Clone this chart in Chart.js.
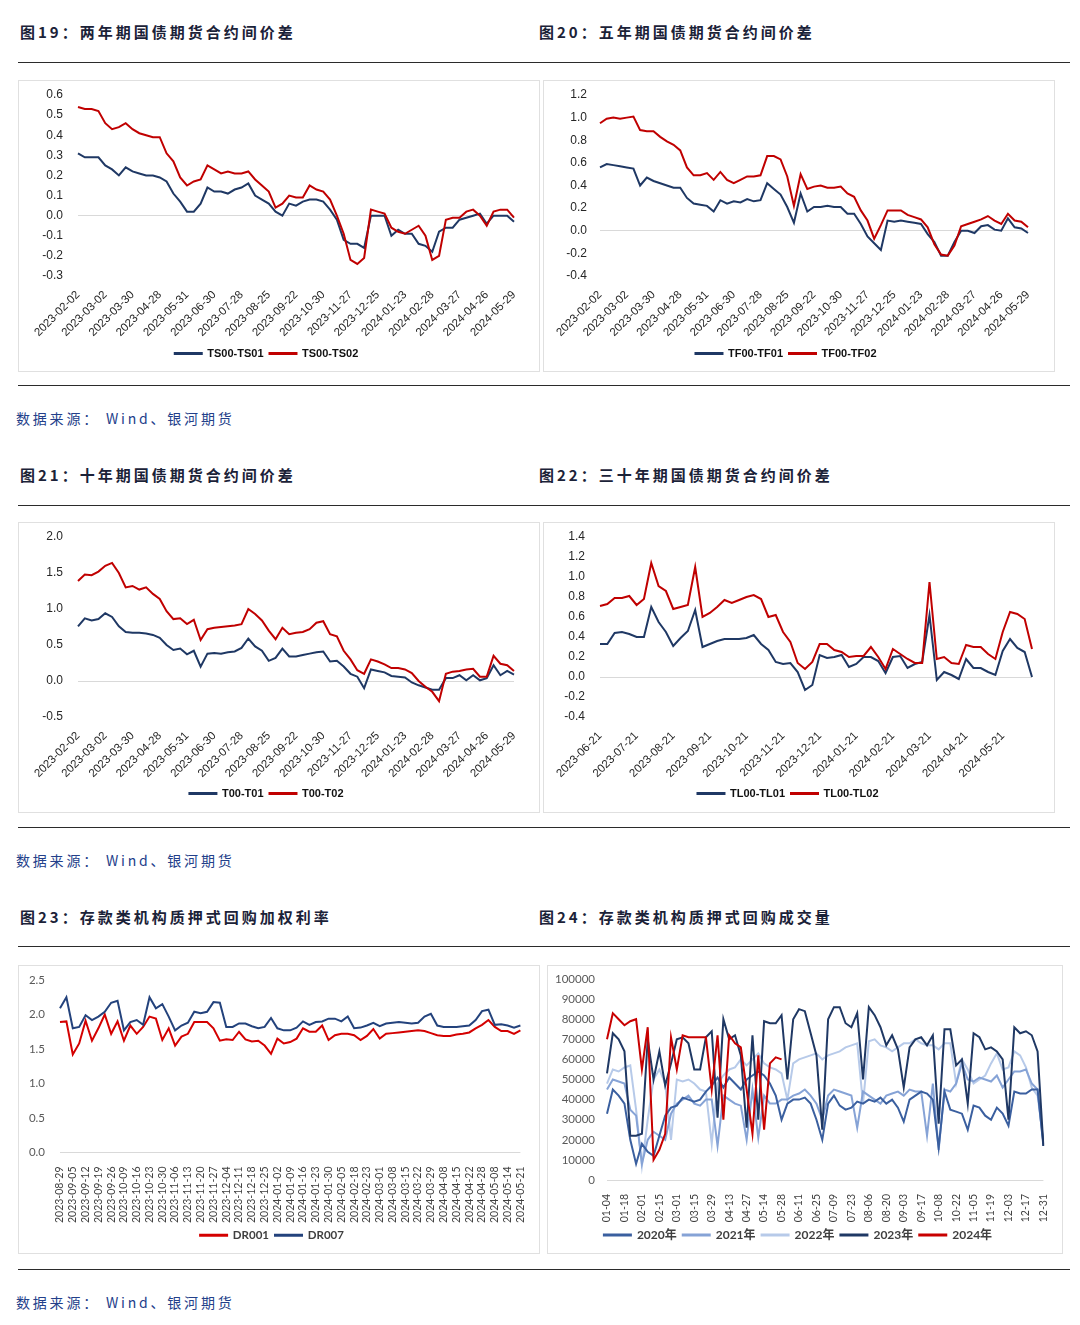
<!DOCTYPE html>
<html lang="zh-CN">
<head>
<meta charset="UTF-8">
<title>国债期货合约间价差与质押式回购</title>
<script src="https://cdn.jsdelivr.net/npm/chart.js@4.4.1/dist/chart.umd.min.js"></script>
<style>
  html, body { margin: 0; padding: 0; background: #fff; }
  body { width: 1080px; height: 1325px; position: relative; overflow: hidden; font-family: "Noto Sans CJK SC", sans-serif; }
  .title { position: absolute; font-size: 15px; font-weight: 700; letter-spacing: 3px; color: #1b2238; line-height: 20px; white-space: nowrap; }
  .rule { position: absolute; left: 18px; width: 1052px; height: 0; border-top: 1.5px solid #2b2b2b; }
  .src { position: absolute; left: 16px; font-size: 14px; letter-spacing: 2.8px; color: #23408a; line-height: 20px; white-space: nowrap; }
  .box { position: absolute; border: 1px solid #e0e0e0; box-sizing: border-box; }
  .box canvas { display: block; }
</style>
</head>
<body>

<div class="title" style="left:20px;top:22px">图19：两年期国债期货合约间价差</div>
<div class="title" style="left:539px;top:22px">图20：五年期国债期货合约间价差</div>
<div class="rule" style="top:62px"></div>
<div class="box" style="left:18px;top:80px;width:522px;height:292px"><canvas id="c19"></canvas></div>
<div class="box" style="left:543px;top:80px;width:512px;height:292px"><canvas id="c20"></canvas></div>
<div class="rule" style="top:385px"></div>
<div class="src" style="top:408px">数据来源： Wind、银河期货</div>

<div class="title" style="left:20px;top:465px">图21：十年期国债期货合约间价差</div>
<div class="title" style="left:539px;top:465px">图22：三十年期国债期货合约间价差</div>
<div class="rule" style="top:505px"></div>
<div class="box" style="left:18px;top:522px;width:522px;height:291px"><canvas id="c21"></canvas></div>
<div class="box" style="left:543px;top:522px;width:512px;height:291px"><canvas id="c22"></canvas></div>
<div class="rule" style="top:827px"></div>
<div class="src" style="top:850px">数据来源： Wind、银河期货</div>

<div class="title" style="left:20px;top:907px">图23：存款类机构质押式回购加权利率</div>
<div class="title" style="left:539px;top:907px">图24：存款类机构质押式回购成交量</div>
<div class="rule" style="top:946px"></div>
<div class="box" style="left:18px;top:965px;width:522px;height:289px"><canvas id="c23"></canvas></div>
<div class="box" style="left:547px;top:965px;width:516px;height:289px"><canvas id="c24"></canvas></div>
<div class="rule" style="top:1269px"></div>
<div class="src" style="top:1292px">数据来源： Wind、银河期货</div>

<script>
// x轴刻度标签
const datesA = ['2023-02-02','2023-03-02','2023-03-30','2023-04-28','2023-05-31','2023-06-30','2023-07-28','2023-08-25','2023-09-22','2023-10-30','2023-11-27','2023-12-25','2024-01-23','2024-02-28','2024-03-27','2024-04-26','2024-05-29'];
const datesTL = ['2023-06-21','2023-07-21','2023-08-21','2023-09-21','2023-10-21','2023-11-21','2023-12-21','2024-01-21','2024-02-21','2024-03-21','2024-04-21','2024-05-21'];
const datesDR = ['2023-08-29','2023-09-05','2023-09-12','2023-09-19','2023-09-26','2023-10-09','2023-10-16','2023-10-23','2023-10-30','2023-11-06','2023-11-13','2023-11-20','2023-11-27','2023-12-04','2023-12-11','2023-12-18','2023-12-25','2024-01-02','2024-01-09','2024-01-16','2024-01-23','2024-01-30','2024-02-05','2024-02-18','2024-02-23','2024-03-01','2024-03-08','2024-03-15','2024-03-22','2024-03-29','2024-04-08','2024-04-15','2024-04-22','2024-04-28','2024-05-08','2024-05-14','2024-05-21'];
const daysVol = ['01-04','01-18','02-01','02-15','03-01','03-15','03-29','04-13','04-27','05-14','05-28','06-11','06-25','07-09','07-23','08-06','08-20','09-03','09-17','10-08','10-22','11-05','11-19','12-03','12-17','12-31'];

// 图19 两年期
const ts01 = [0.31,0.29,0.29,0.29,0.25,0.23,0.20,0.24,0.22,0.21,0.20,0.20,0.19,0.17,0.11,0.07,0.02,0.02,0.06,0.14,0.12,0.12,0.11,0.13,0.14,0.16,0.10,0.08,0.06,0.02,0.00,0.06,0.05,0.07,0.08,0.08,0.07,0.03,-0.02,-0.12,-0.14,-0.14,-0.16,0.00,0.00,0.00,-0.10,-0.07,-0.09,-0.09,-0.14,-0.15,-0.18,-0.08,-0.06,-0.06,-0.02,-0.01,0.00,0.01,-0.04,0.00,0.00,0.00,-0.03];
const ts02 = [0.54,0.53,0.53,0.52,0.46,0.43,0.44,0.46,0.43,0.41,0.40,0.39,0.39,0.31,0.27,0.19,0.15,0.17,0.18,0.25,0.23,0.21,0.22,0.21,0.21,0.22,0.18,0.15,0.12,0.04,0.06,0.10,0.09,0.09,0.15,0.13,0.12,0.08,0.00,-0.09,-0.22,-0.24,-0.21,0.03,0.02,0.01,-0.06,-0.08,-0.09,-0.07,-0.05,-0.10,-0.22,-0.20,-0.02,-0.01,-0.01,0.02,0.03,0.00,-0.05,0.02,0.03,0.03,-0.01];

// 图20 五年期
const tf01 = [0.56,0.59,0.58,0.57,0.56,0.55,0.40,0.47,0.44,0.42,0.40,0.38,0.38,0.29,0.24,0.23,0.22,0.17,0.27,0.24,0.26,0.25,0.28,0.26,0.27,0.42,0.37,0.32,0.21,0.07,0.33,0.17,0.21,0.21,0.22,0.21,0.21,0.15,0.15,0.06,-0.05,-0.11,-0.17,0.09,0.08,0.09,0.08,0.07,0.06,-0.03,-0.10,-0.22,-0.22,-0.10,0.00,0.00,-0.02,0.04,0.05,0.01,0.00,0.11,0.03,0.02,-0.02];
const tf02 = [0.95,0.99,1.00,0.99,1.00,1.01,0.89,0.88,0.88,0.83,0.79,0.76,0.71,0.56,0.49,0.49,0.51,0.45,0.52,0.45,0.42,0.45,0.48,0.48,0.49,0.66,0.66,0.63,0.48,0.22,0.50,0.37,0.39,0.40,0.38,0.38,0.39,0.33,0.30,0.18,0.09,-0.07,0.05,0.18,0.18,0.18,0.14,0.12,0.10,0.03,-0.12,-0.21,-0.22,-0.13,0.04,0.06,0.08,0.10,0.13,0.09,0.06,0.15,0.09,0.08,0.03];

// 图21 十年期
const t01 = [0.76,0.87,0.84,0.86,0.94,0.89,0.76,0.68,0.67,0.67,0.66,0.64,0.60,0.50,0.43,0.45,0.37,0.42,0.20,0.38,0.39,0.38,0.40,0.41,0.46,0.59,0.48,0.42,0.28,0.32,0.45,0.34,0.34,0.36,0.38,0.40,0.41,0.27,0.28,0.20,0.10,0.06,-0.10,0.16,0.14,0.12,0.07,0.06,0.05,-0.02,-0.06,-0.09,-0.12,-0.12,0.04,0.04,0.08,0.01,0.08,0.01,0.04,0.22,0.08,0.14,0.09];
const t02 = [1.39,1.48,1.47,1.52,1.60,1.64,1.50,1.30,1.32,1.27,1.30,1.21,1.14,0.97,0.86,0.87,0.79,0.85,0.57,0.72,0.74,0.75,0.76,0.77,0.79,1.00,0.93,0.84,0.70,0.58,0.74,0.65,0.67,0.68,0.72,0.81,0.83,0.65,0.62,0.42,0.30,0.15,0.10,0.30,0.27,0.23,0.18,0.18,0.16,0.11,0.00,-0.08,-0.15,-0.28,0.10,0.13,0.14,0.16,0.17,0.06,0.06,0.35,0.24,0.22,0.14];

// 图22 三十年期
const tl01 = [0.33,0.33,0.44,0.45,0.43,0.40,0.40,0.70,0.55,0.45,0.31,0.39,0.46,0.67,0.30,0.33,0.36,0.38,0.38,0.38,0.39,0.42,0.33,0.27,0.15,0.13,0.14,0.05,-0.13,-0.08,0.22,0.19,0.20,0.22,0.10,0.13,0.20,0.20,0.16,0.04,0.20,0.21,0.09,0.13,0.15,0.62,-0.03,0.05,0.02,-0.02,0.18,0.09,0.09,0.05,0.02,0.26,0.38,0.29,0.25,0.00];
const tl02 = [0.71,0.73,0.79,0.79,0.81,0.72,0.78,1.14,0.91,0.86,0.68,0.70,0.72,1.10,0.60,0.64,0.70,0.77,0.74,0.77,0.80,0.82,0.78,0.60,0.62,0.45,0.35,0.14,0.08,0.15,0.33,0.33,0.27,0.25,0.20,0.21,0.21,0.30,0.20,0.08,0.28,0.23,0.18,0.14,0.14,0.95,0.18,0.20,0.14,0.13,0.32,0.30,0.30,0.23,0.18,0.45,0.65,0.63,0.58,0.28];

// 图23 加权利率
const dr001 = [1.89,1.90,1.42,1.58,1.91,1.62,1.80,2.00,1.72,1.90,1.62,1.84,1.72,1.82,1.97,1.94,1.63,1.80,1.55,1.68,1.72,1.89,1.89,1.89,1.80,1.62,1.64,1.63,1.75,1.64,1.61,1.62,1.55,1.43,1.65,1.58,1.60,1.65,1.80,1.75,1.75,1.84,1.63,1.70,1.72,1.72,1.70,1.63,1.69,1.79,1.65,1.72,1.73,1.74,1.75,1.76,1.77,1.76,1.73,1.70,1.69,1.69,1.71,1.72,1.74,1.80,1.85,1.92,1.82,1.76,1.76,1.72,1.77];
const dr007 = [2.09,2.25,1.80,1.82,1.99,1.92,1.97,2.04,2.17,2.20,1.77,1.89,1.92,1.85,2.25,2.09,2.15,1.97,1.77,1.84,1.88,2.04,2.02,2.04,2.18,2.17,1.82,1.82,1.87,1.87,1.83,1.80,1.82,1.95,1.80,1.77,1.77,1.81,1.90,1.85,1.89,1.90,1.94,1.94,1.90,1.97,1.80,1.81,1.84,1.88,1.83,1.87,1.88,1.89,1.88,1.87,1.88,1.97,2.01,1.84,1.82,1.82,1.82,1.83,1.84,1.92,2.05,2.07,1.85,1.86,1.84,1.81,1.84];

// 图24 成交量（单位：千）
const vol2020 = [33,45,42,38,20,8,18,14,12,22,32,36,37,41,40,39,40,44,47,51,46,51,48,45,50,52,54,52,48,42,30,38,40,40,41,38,30,20,38,42,37,35,36,39,38,40,39,41,38,40,36,29,40,42,44,43,40,16,44,35,34,33,25,37,36,32,30,36,33,27,44,43,43,45,45,17];
const vol2021 = [45,50,49,48,35,32,8,20,24,22,20,33,38,40,42,38,37,40,40,17,42,40,38,37,20,45,21,42,38,38,40,40,42,43,45,42,38,30,42,45,44,43,42,26,44,42,40,38,42,43,44,42,45,44,44,22,48,15,45,44,48,58,50,49,51,50,49,52,46,50,54,54,55,48,45,18];
const vol2022 = [48,55,54,56,57,35,7,30,50,55,48,20,50,49,50,48,45,44,18,48,52,55,56,60,57,60,63,58,56,55,53,40,58,60,61,62,63,60,62,63,64,66,67,68,38,69,70,67,66,64,66,68,68,70,68,67,67,65,68,68,48,60,55,48,50,52,58,63,55,56,64,62,56,46,42,20];
const vol2023 = [53,73,70,64,22,22,23,70,50,64,47,58,70,71,68,55,55,71,74,31,80,70,72,62,26,72,30,79,78,78,82,50,80,85,84,73,62,25,80,86,86,78,76,83,50,86,82,76,67,72,65,46,66,70,71,67,72,28,75,75,57,60,38,73,71,65,66,64,60,30,76,73,74,72,64,17];
const vol2024 = [70,83,80,77,79,80,55,76,10,15,23,71,55,72,71,71,71,71,45,72,30,72,68,66,45,23,62,25,58,61,60];

const NAVY = '#1f3864';
const RED = '#c00000';
const ARIAL = '"Liberation Sans", Arial, sans-serif';
const CAL = 'Lato, "Noto Sans CJK SC", sans-serif';

// 只在部分位置显示日期
function spreadLabels(ticks, per, count) {
  const out = [];
  for (let i = 0; i < count; i++) {
    out.push(i % per === 0 && i / per < ticks.length ? ticks[i / per] : '');
  }
  return out;
}

function zeroLine(ctx) {
  return Math.abs(ctx.tick.value) < 1e-9 ? '#d9d9d9' : 'rgba(0,0,0,0)';
}

function oneDecimal(v) {
  return (Math.abs(v) < 1e-9 ? 0 : v).toFixed(1);
}

function lineSet(label, data, color, order) {
  return { label, data, borderColor: color, backgroundColor: color, borderWidth: 2,
           pointRadius: 0, pointHoverRadius: 0, tension: 0, order };
}

function baseOptions(g) {
  return {
    responsive: true,
    maintainAspectRatio: false,
    animation: false,
    layout: { padding: { left: 0, right: g.right, top: g.top, bottom: g.bottom } },
    plugins: {
      tooltip: { enabled: false },
      legend: {
        position: 'bottom',
        labels: { boxWidth: 27, boxHeight: 1, padding: 6, color: g.legendColor,
                  sort: (a, b) => a.datasetIndex - b.datasetIndex,
                  font: { family: g.legendFont, size: g.legendSize, weight: 'bold' } }
      }
    },
    scales: {
      x: {
        grid: { display: false }, border: { display: false },
        ticks: { autoSkip: false, minRotation: g.rot, maxRotation: g.rot, padding: g.xPad,
                 color: g.xColor, font: { family: g.tickFont, size: g.xSize } },
        afterFit: s => { s.height = g.xH; }
      },
      y: {
        min: g.min, max: g.max,
        // 透明刻度线用来留出标签与绘图区之间的空隙
        grid: { color: zeroLine, drawTicks: true, tickLength: g.yPad, tickColor: 'rgba(0,0,0,0)' },
        border: { display: false },
        ticks: { stepSize: g.step, padding: 0, color: g.yColor,
                 font: { family: g.tickFont, size: g.ySize }, callback: g.fmt },
        afterFit: s => { s.width = g.yW; }
      }
    }
  };
}

function spreadChart(id, ticks, per, blueName, blue, redName, red, g) {
  const opts = baseOptions(Object.assign({
    rot: 45, xPad: 4, xColor: '#262626', yColor: '#262626', tickFont: ARIAL, xSize: 11.5, ySize: 12,
    legendFont: ARIAL, legendSize: 11, legendColor: '#111', yPad: 15, fmt: oneDecimal
  }, g));
  return new Chart(document.getElementById(id), {
    type: 'line',
    data: {
      labels: spreadLabels(ticks, per, blue.length),
      datasets: [lineSet(blueName, blue, NAVY, 1), lineSet(redName, red, RED, 0)]
    },
    options: opts
  });
}

spreadChart('c19', datesA, 4, 'TS00-TS01', ts01, 'TS00-TS02', ts02,
  { min: -0.3, max: 0.6, step: 0.1, yW: 59, right: 25, top: 14, bottom: 2, xH: 66 });
spreadChart('c20', datesA, 4, 'TF00-TF01', tf01, 'TF00-TF02', tf02,
  { min: -0.4, max: 1.2, step: 0.2, yW: 56, right: 26, top: 14, bottom: 2, xH: 66, yPad: 13 });
spreadChart('c21', datesA, 4, 'T00-T01', t01, 'T00-T02', t02,
  { min: -0.5, max: 2.0, step: 0.5, yW: 59, right: 25, top: 14, bottom: 3, xH: 65 });
spreadChart('c22', datesTL, 5, 'TL00-TL01', tl01, 'TL00-TL02', tl02,
  { min: -0.4, max: 1.4, step: 0.2, yW: 56, right: 22, top: 14, bottom: 3, xH: 65 });

// 图23
new Chart(document.getElementById('c23'), {
  type: 'line',
  data: {
    labels: spreadLabels(datesDR, 2, dr001.length),
    datasets: [lineSet('DR001', dr001, '#d40000', 1), lineSet('DR007', dr007, '#23427c', 0)]
  },
  options: baseOptions({
    min: 0, max: 2.5, step: 0.5, yW: 41, right: 14, top: 14, bottom: 2, xH: 71,
    rot: 90, xPad: 6, xColor: '#404040', yColor: '#595959', tickFont: CAL, xSize: 10.5, ySize: 11.5,
    legendFont: CAL, legendSize: 11.5, legendColor: '#404040', yPad: 15, fmt: oneDecimal
  })
});

// 图24
new Chart(document.getElementById('c24'), {
  type: 'line',
  data: {
    labels: spreadLabels(daysVol, 3, vol2020.length),
    datasets: [
      lineSet('2020年', vol2020.map(v => v * 1000), '#3a5f9f', 2),
      lineSet('2021年', vol2021.map(v => v * 1000), '#86a3d6', 3),
      lineSet('2022年', vol2022.map(v => v * 1000), '#b7cae9', 4),
      lineSet('2023年', vol2023.map(v => v * 1000), '#1f3864', 1),
      lineSet('2024年', vol2024.map(v => v * 1000), '#c80000', 0)
    ]
  },
  options: baseOptions({
    min: 0, max: 100000, step: 10000, yW: 59, right: 14, top: 13, bottom: 2, xH: 43,
    rot: 90, xPad: 6, xColor: '#404040', yColor: '#595959', tickFont: CAL, xSize: 10.5, ySize: 11.5,
    legendFont: CAL, legendSize: 12, legendColor: '#404040', yPad: 12, fmt: v => String(v)
  })
});
</script>
</body>
</html>
